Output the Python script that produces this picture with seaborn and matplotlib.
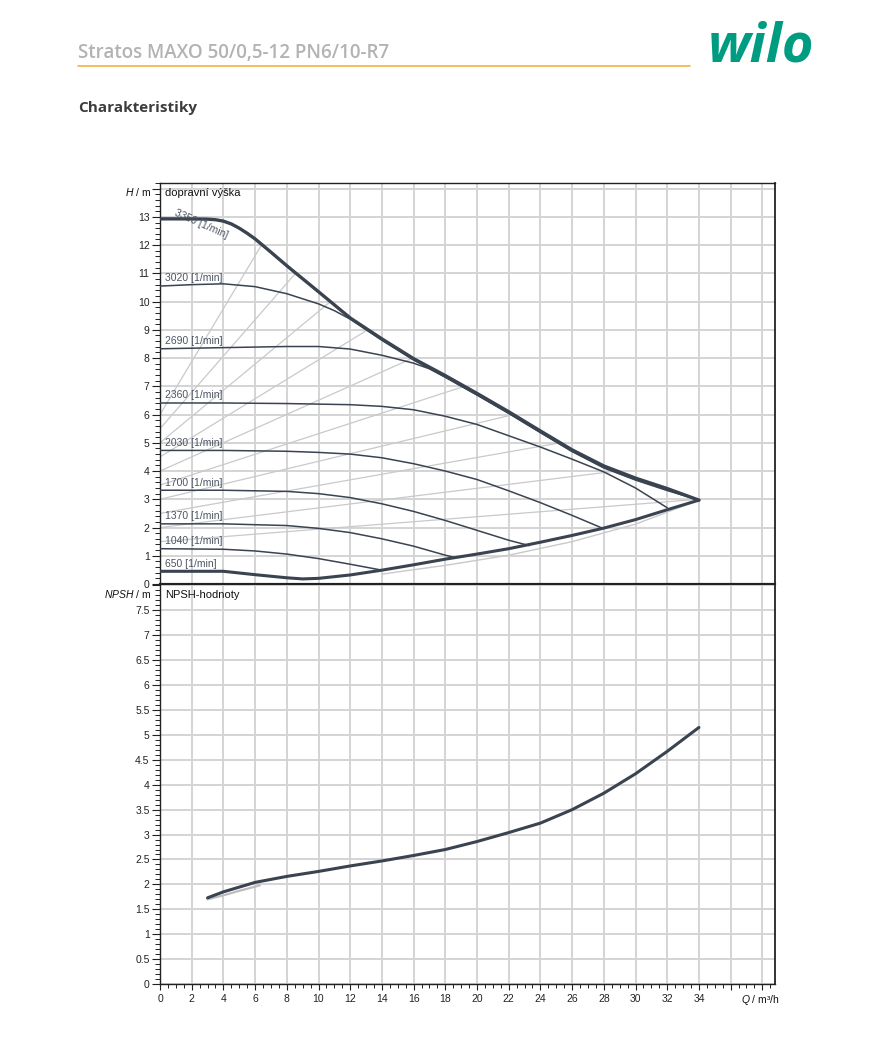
import numpy as np
import pandas as pd
import matplotlib
matplotlib.use("Agg")
import matplotlib.pyplot as plt
from matplotlib.ticker import MultipleLocator, FixedLocator, FixedFormatter
from matplotlib.lines import Line2D
import seaborn as sns

# ---------------- data ----------------
# maximum curve 3350 1/min incl. power limit
q_max = [0, 2, 3, 3.5, 4, 4.5, 5, 5.5, 6, 7, 8, 10, 12, 14, 16, 18, 20, 22, 24, 26,
         28, 30, 32, 34]
h_max = [12.93, 12.93, 12.92, 12.9, 12.85, 12.75, 12.6, 12.42, 12.22, 11.75, 11.27,
         10.35, 9.42, 8.68, 7.98, 7.38, 6.75, 6.1, 5.42, 4.75, 4.18, 3.75, 3.38, 2.97]

q_3020 = [0, 2, 4, 6, 8, 10, 11, 12, 14, 16, 18, 20, 22, 24, 26, 28, 30, 32, 34]
h_3020 = [10.55, 10.6, 10.63, 10.53, 10.28, 9.92, 9.68, 9.38, 8.63, 7.93, 7.33, 6.7,
          6.05, 5.37, 4.7, 4.13, 3.7, 3.33, 2.97]

q_2690 = [0, 4, 8, 10, 12, 14, 16, 17, 18, 20, 22, 24, 26, 28, 30, 32, 34]
h_2690 = [8.33, 8.37, 8.41, 8.41, 8.32, 8.1, 7.82, 7.62, 7.32, 6.69, 6.04, 5.36,
          4.69, 4.11, 3.68, 3.31, 2.97]

q_2360 = [0, 4, 8, 12, 14, 16, 18, 20, 22, 24, 26, 28, 30, 32]
h_2360 = [6.41, 6.41, 6.39, 6.35, 6.29, 6.17, 5.94, 5.65, 5.25, 4.85, 4.42, 3.97, 3.4, 2.7]

q_2030 = [0, 4, 8, 10, 12, 14, 16, 18, 20, 22, 24, 26, 27.9]
h_2030 = [4.73, 4.73, 4.7, 4.66, 4.6, 4.47, 4.26, 4.0, 3.7, 3.3, 2.88, 2.43, 1.98]

q_1700 = [0, 4, 8, 10, 12, 14, 16, 18, 20, 22, 23.3]
h_1700 = [3.32, 3.32, 3.28, 3.2, 3.06, 2.84, 2.57, 2.25, 1.9, 1.55, 1.36]

q_1370 = [0, 4, 8, 10, 12, 14, 16, 18, 18.6]
h_1370 = [2.13, 2.13, 2.07, 1.97, 1.82, 1.6, 1.34, 1.02, 0.94]

q_1040 = [0, 4, 6, 8, 10, 12, 14]
h_1040 = [1.25, 1.23, 1.17, 1.06, 0.9, 0.7, 0.49]

# lower boundary (650 1/min and max-flow limit)
q_low = [0, 4, 6, 8, 9, 10, 12, 14, 16, 18, 20, 22, 24, 26, 28, 30, 32, 34]
h_low = [0.45, 0.45, 0.33, 0.22, 0.18, 0.2, 0.32, 0.49, 0.68, 0.88, 1.06, 1.25,
         1.48, 1.72, 1.98, 2.28, 2.63, 2.97]

# light grey companion below the lower boundary
q_low_grey = [14, 18, 22, 26, 30, 34]
h_low_grey = [0.35, 0.66, 1.02, 1.5, 2.12, 2.97]

# delta-p-v control lines: set height and flow where they meet the max curve
dpv_set = [3, 4, 5, 6, 7, 8, 9, 10, 11, 12]
dpv_q_end = [34, 28.8, 25.25, 22.3, 19.2, 15.95, 13.1, 10.75, 8.55, 6.4]

speed_labels = ["3020 [1/min]", "2690 [1/min]", "2360 [1/min]", "2030 [1/min]",
                "1700 [1/min]", "1370 [1/min]", "1040 [1/min]", "650 [1/min]"]
speed_label_h = [10.55, 8.33, 6.41, 4.73, 3.32, 2.13, 1.25, 0.45]

# NPSH
q_npsh = [3, 4, 6, 8, 10, 12, 14, 16, 18, 20, 22, 24, 26, 28, 30, 32, 34]
npsh = [1.73, 1.85, 2.04, 2.16, 2.26, 2.37, 2.47, 2.58, 2.7, 2.86, 3.04, 3.23,
        3.5, 3.83, 4.22, 4.67, 5.15]
q_npsh_grey = [3, 4, 5, 6.3]
npsh_grey = [1.7, 1.78, 1.87, 1.98]

x_ticks = list(range(0, 40, 2))
x_labels = [str(v) if v <= 34 else "" for v in x_ticks]
h_ticks = list(range(0, 15))
h_labels = [str(v) if v <= 13 else "" for v in h_ticks]
n_ticks = [i * 0.5 for i in range(0, 17)]
n_labels = [("%g" % v) if v <= 7.5 else "" for v in n_ticks]

# ---------------- styling ----------------
sns.set_theme(style="white")
plt.rcParams['font.family'] = ['Liberation Sans', 'DejaVu Sans']
plt.rcParams['mathtext.fontset'] = 'custom'
plt.rcParams['mathtext.it'] = 'Liberation Sans:italic'
plt.rcParams['mathtext.rm'] = 'Liberation Sans'

DARK = '#3a4350'
GREY = '#c9c9c9'
GRID = '#d4d4d4'

W, H = 893, 1048
fig = plt.figure(figsize=(W / 100, H / 100), dpi=100)
fig.patch.set_facecolor('white')
L, R = 160 / W, 775 / W
ax1 = fig.add_axes([L, 1 - 584 / H, R - L, (584 - 183) / H])
ax2 = fig.add_axes([L, 1 - 984 / H, R - L, (984 - 584) / H])

XMAX = 38.8
for ax in (ax1, ax2):
    ax.set_facecolor('white')
    ax.set_xlim(0, XMAX)
    ax.xaxis.set_major_locator(FixedLocator(x_ticks))
    ax.xaxis.set_minor_locator(MultipleLocator(0.5))
    ax.set_axisbelow(True)
    ax.grid(True, which='major', color=GRID, lw=1.4)
    ax.grid(False, which='minor')
    for s in ax.spines.values():
        s.set_color('#222222')
        s.set_linewidth(1.0)
    ax.spines['right'].set_linewidth(1.3)
    ax.tick_params(axis='y', which='major', direction='out', length=6, width=0.8,
                   labelsize=7.5, pad=1.5, colors='#222222', left=True)
    ax.tick_params(axis='y', which='minor', direction='out', length=3.5, width=0.7,
                   left=True, colors='#222222')

ax1.set_ylim(0, 14.2)
ax1.yaxis.set_major_locator(FixedLocator(h_ticks))
ax1.yaxis.set_major_formatter(FixedFormatter(h_labels))
ax1.yaxis.set_minor_locator(MultipleLocator(0.2))
ax1.tick_params(axis='x', which='both', bottom=False, labelbottom=False)
ax1.spines['bottom'].set_linewidth(1.5)

ax2.set_ylim(0, 8.03)
ax2.yaxis.set_major_locator(FixedLocator(n_ticks))
ax2.yaxis.set_major_formatter(FixedFormatter(n_labels))
ax2.yaxis.set_minor_locator(MultipleLocator(0.1))
ax2.xaxis.set_major_formatter(FixedFormatter(x_labels))
ax2.tick_params(axis='x', which='major', direction='out', length=4, width=0.8,
                labelsize=7.5, pad=3, colors='#222222', bottom=True)
ax2.tick_params(axis='x', which='minor', direction='out', length=3, width=0.7,
                bottom=True, colors='#222222')
ax2.spines['top'].set_linewidth(1.5)

def draw(ax, q, h, color, lw, z=3):
    df = pd.DataFrame({'Q': q, 'H': h})
    sns.lineplot(data=df, x='Q', y='H', ax=ax, color=color, lw=lw, sort=False,
                 estimator=None, zorder=z)

# grey delta-p-v lines
for hs, qe in zip(dpv_set, dpv_q_end):
    draw(ax1, [0, qe], [hs / 2, hs], GREY, 0.9, 2)
draw(ax1, q_low_grey, h_low_grey, GREY, 1.0, 2)

# speed curves
for q, h in [(q_3020, h_3020), (q_2690, h_2690), (q_2360, h_2360), (q_2030, h_2030),
             (q_1700, h_1700), (q_1370, h_1370), (q_1040, h_1040)]:
    draw(ax1, q, h, DARK, 1.1, 3)
draw(ax1, q_low, h_low, DARK, 2.2, 4)
draw(ax1, q_max, h_max, DARK, 2.4, 4)

# NPSH
draw(ax2, q_npsh_grey, npsh_grey, '#bdbdbd', 1.6, 2)
draw(ax2, q_npsh, npsh, DARK, 2.2, 3)

for ax in (ax1, ax2):
    ax.set_xlabel('')
    ax.set_ylabel('')

# speed labels
for lab, hv in zip(speed_labels, speed_label_h):
    ax1.text(0.3, hv + 0.27, lab, fontsize=7.5, color='#4b5563', va='center', ha='left',
             zorder=5)
ax1.text(0.8, 12.98, "3350 [1/min]", fontsize=7.5, color='#4b5563', rotation=-24,
         rotation_mode='anchor', ha='left', va='bottom', zorder=5)

ax1.text(0.3, 13.85, "dopravní výška", fontsize=8, color='#111111', va='center', ha='left')
ax2.text(0.3, 7.8, "NPSH-hodnoty", fontsize=8, color='#111111', va='center', ha='left')

fig.text(151 / W, 1 - 192 / H, "$H$ / m", fontsize=7.5, ha='right', va='center',
         color='#111111')
fig.text(151 / W, 1 - 594 / H, "$NPSH$ / m", fontsize=7.5, ha='right', va='center',
         color='#111111')
fig.text(760 / W, 1 - 1000 / H, "$Q$ / m³/h", fontsize=7.5, ha='center', va='center',
         color='#111111')

# header
fig.text(78 / W, 1 - 53 / H, "Stratos MAXO 50/0,5-12 PN6/10-R7", fontsize=13.5,
         fontweight='semibold', color='#b3b3b3', family=['Open Sans', 'DejaVu Sans'],
         ha='left', va='center')
fig.add_artist(Line2D([78 / W, 690 / W], [1 - 65.5 / H, 1 - 65.5 / H], color='#f2b33d',
                      lw=1.2, transform=fig.transFigure))
fig.text(761 / W, 1 - 47 / H, "wilo", fontsize=39, fontweight='bold', style='italic',
         color='#009c82', family=['Open Sans', 'DejaVu Sans'], ha='center', va='center')
fig.text(78 / W, 1 - 108 / H, "Charakteristiky", fontsize=11, fontweight='bold',
         color='#3c3c3c', family=['Open Sans', 'DejaVu Sans'], ha='left', va='center')

fig.savefig('out.png', dpi=100, facecolor='white')
